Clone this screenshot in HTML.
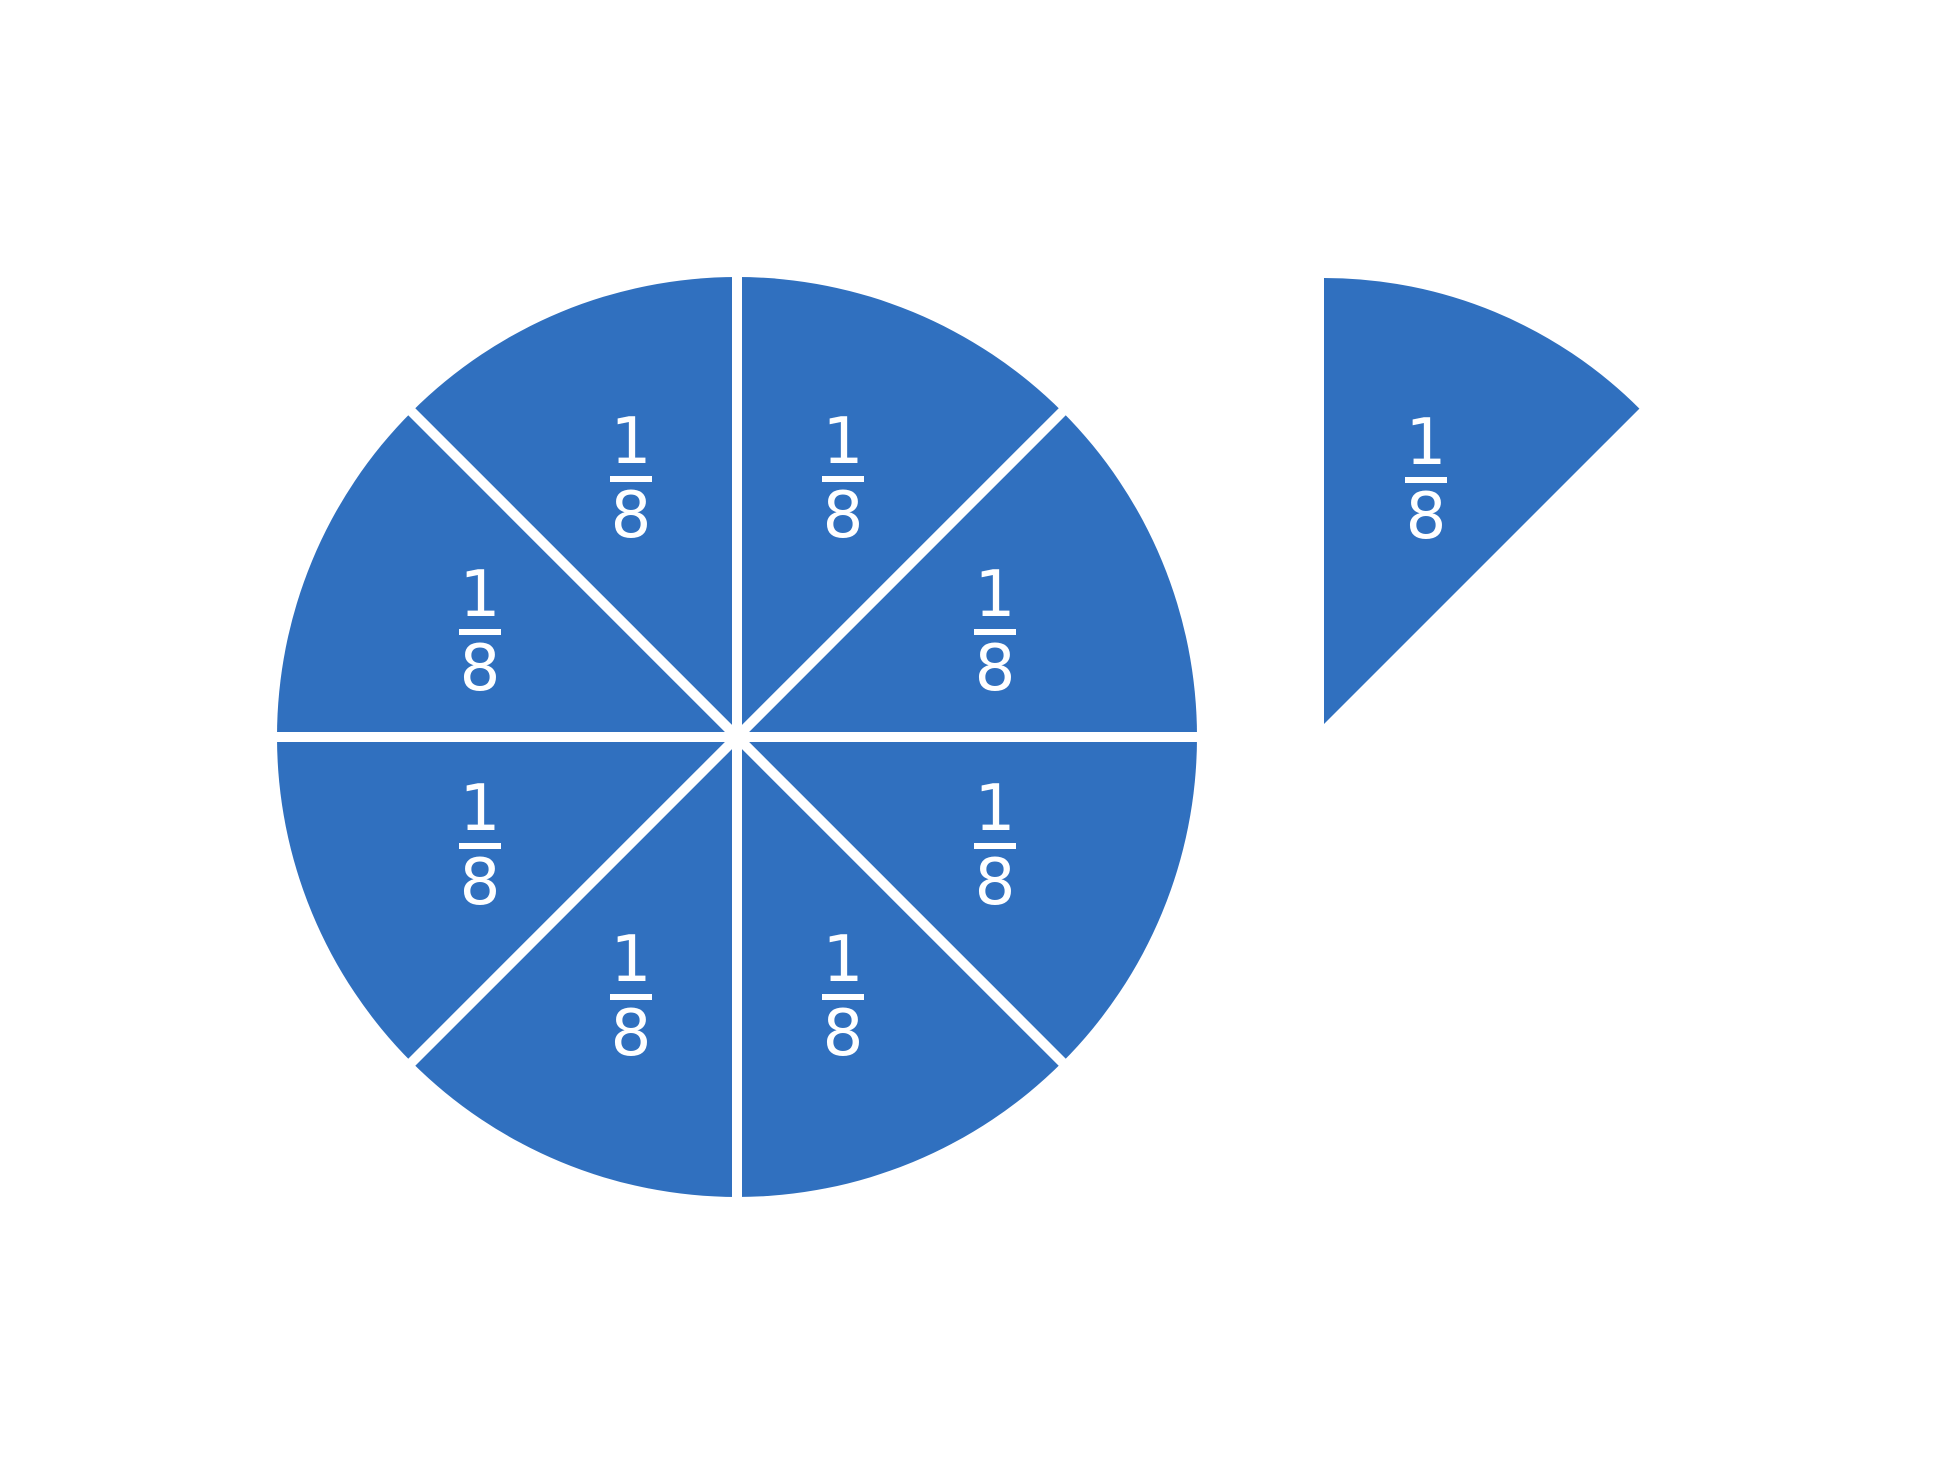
<!DOCTYPE html>
<html><head><meta charset="utf-8"><style>
html,body{margin:0;padding:0;background:#fff;}
svg{display:block;}
text{font-family:"DejaVu Sans","Liberation Sans",sans-serif;font-size:64px;fill:#fff;text-anchor:middle;}
</style></head><body>
<svg width="1939" height="1475" viewBox="0 0 1939 1475" xmlns="http://www.w3.org/2000/svg">
<circle cx="737" cy="737" r="460" fill="#3070BF"/>
<g stroke="#fff" stroke-width="10">
<line x1="272" y1="737" x2="1202" y2="737"/>
<line x1="737" y1="272" x2="737" y2="1202"/>
<line x1="408" y1="408" x2="1066" y2="1066"/>
<line x1="1066" y1="408" x2="408" y2="1066"/>
</g>
<path d="M1324,724 L1324,278 A446,446 0 0 1 1639.4,408.6 Z" fill="#3070BF"/>
<g>
<g transform="translate(631,479)"><text y="-16">1</text><rect x="-21" y="-3" width="42" height="6" fill="#fff"/><text y="58">8</text></g>
<g transform="translate(843,479)"><text y="-16">1</text><rect x="-21" y="-3" width="42" height="6" fill="#fff"/><text y="58">8</text></g>
<g transform="translate(480,632)"><text y="-16">1</text><rect x="-21" y="-3" width="42" height="6" fill="#fff"/><text y="58">8</text></g>
<g transform="translate(995,632)"><text y="-16">1</text><rect x="-21" y="-3" width="42" height="6" fill="#fff"/><text y="58">8</text></g>
<g transform="translate(480,846)"><text y="-16">1</text><rect x="-21" y="-3" width="42" height="6" fill="#fff"/><text y="58">8</text></g>
<g transform="translate(995,846)"><text y="-16">1</text><rect x="-21" y="-3" width="42" height="6" fill="#fff"/><text y="58">8</text></g>
<g transform="translate(631,997)"><text y="-16">1</text><rect x="-21" y="-3" width="42" height="6" fill="#fff"/><text y="58">8</text></g>
<g transform="translate(843,997)"><text y="-16">1</text><rect x="-21" y="-3" width="42" height="6" fill="#fff"/><text y="58">8</text></g>
<g transform="translate(1426,480)"><text y="-16">1</text><rect x="-21" y="-3" width="42" height="6" fill="#fff"/><text y="58">8</text></g>
</g>
</svg>
</body></html>
